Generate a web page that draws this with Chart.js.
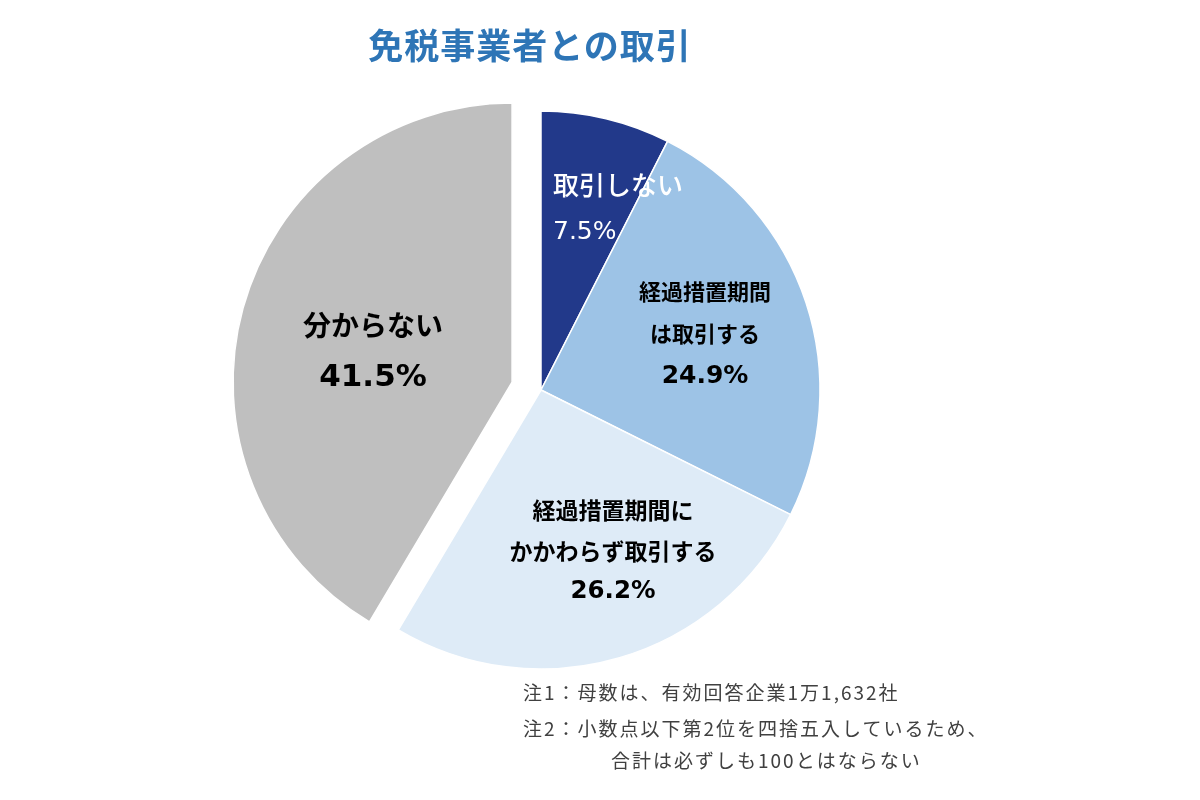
<!DOCTYPE html>
<html lang="ja">
<head>
    <meta charset="UTF-8">
    <title>免税事業者との取引</title>
    <script src="https://cdn.jsdelivr.net/npm/chart.js"></script>
    <style>
        body { margin: 0; background: #fff; font-family: "Noto Sans CJK JP", sans-serif; }
        .wrap { position: relative; width: 1200px; height: 800px; overflow: hidden; }
        #pieChart { position: absolute; left: 0; top: 0; }
        .title {
            position: absolute; left: 0; width: 1060px; top: 18px;
            text-align: center; font-size: 35px; font-weight: 700; color: #2e75b6;
            letter-spacing: 1px;
        }
        .note { position: absolute; font-size: 19px; letter-spacing: 2px; color: #404040; white-space: nowrap; }
    </style>
</head>
<body>
    <div class="wrap">
        <canvas id="pieChart" width="1200" height="800"></canvas>
        <div class="title">免税事業者との取引</div>
        <div class="note" style="left:523px; top:678px;">注1：母数は、有効回答企業1万1,632社</div>
        <div class="note" style="left:523px; top:714px;">注2：小数点以下第2位を四捨五入しているため、</div>
        <div class="note" style="left:611px; top:746px;">合計は必ずしも100とはならない</div>
    </div>

    <script>
        // data
        const categories = ['取引しない', '経過措置期間は取引する', '経過措置期間にかかわらず取引する', '分からない'];
        const values = [7.5, 24.9, 26.2, 41.5];
        const labelLines = [
            ['取引しない'],
            ['経過措置期間', 'は取引する'],
            ['経過措置期間に', 'かかわらず取引する'],
            ['分からない']
        ];
        const colors = ['#22398a', '#9dc3e6', '#deebf7', '#bfbfbf'];
        const explode = [0, 0, 0, 30];

        // label placement relative to pie centre (dx, first line dy, line gap)
        const labelStyle = [
            { dx: 12, dy: -205, gap: 47, align: 'left', color: '#ffffff', size: 26, weight: 500, pct: '500 25px "DejaVu Sans", sans-serif' },
            { dx: 164, dy: -98, gap: 42, align: 'center', color: '#000000', size: 22, weight: 700, pct: 'bold 25px "DejaVu Sans", sans-serif' },
            { dx: 72, dy: 120, gap: 41, align: 'center', color: '#000000', size: 23, weight: 700, pct: 'bold 24.5px "DejaVu Sans", sans-serif' },
            { dx: -168, dy: -65, gap: 53, align: 'center', color: '#000000', size: 28, weight: 700, pct: 'bold 31px "DejaVu Sans", sans-serif' }
        ];

        // pull slices out along their mid angle without changing the radius
        const explodeSlices = {
            id: 'explodeSlices',
            afterDatasetUpdate(chart, args) {
                if (args.index !== 0) return;
                args.meta.data.forEach((arc, i) => {
                    const d = explode[i];
                    if (!d) return;
                    const mid = (arc.startAngle + arc.endAngle) / 2;
                    arc.x += Math.cos(mid) * d;
                    arc.y += Math.sin(mid) * d;
                });
            }
        };

        const sliceLabels = {
            id: 'sliceLabels',
            afterDatasetsDraw(chart) {
                const ctx = chart.ctx;
                const arcs = chart.getDatasetMeta(0).data;
                const cx = arcs[0].x, cy = arcs[0].y;
                ctx.save();
                ctx.textBaseline = 'middle';
                arcs.forEach((arc, i) => {
                    const s = labelStyle[i];
                    const lines = labelLines[i];
                    ctx.fillStyle = s.color;
                    ctx.textAlign = s.align;
                    ctx.font = s.weight + ' ' + s.size + 'px "Noto Sans CJK JP", sans-serif';
                    lines.forEach((line, j) => {
                        ctx.fillText(line, cx + s.dx, cy + s.dy + j * s.gap);
                    });
                    ctx.font = s.pct;
                    ctx.fillText(values[i].toFixed(1) + '%', cx + s.dx, cy + s.dy + lines.length * s.gap);
                });
                ctx.restore();
            }
        };

        new Chart(document.getElementById('pieChart'), {
            type: 'pie',
            data: {
                labels: categories,
                datasets: [{
                    data: values,
                    backgroundColor: colors,
                    borderColor: '#ffffff',
                    borderWidth: 1.5
                }]
            },
            options: {
                responsive: false,
                animation: false,
                radius: 279,
                layout: { padding: { left: 0, right: 118, top: 0, bottom: 20 } },
                plugins: {
                    legend: { display: false },
                    tooltip: { enabled: false },
                    title: { display: false }
                }
            },
            plugins: [explodeSlices, sliceLabels]
        });
    </script>
</body>
</html>
